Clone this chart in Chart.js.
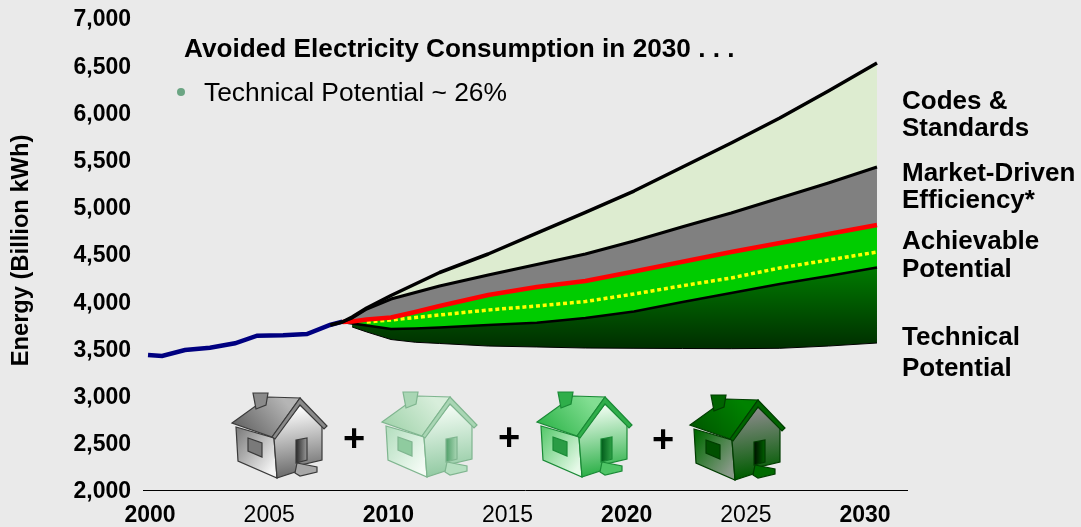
<!DOCTYPE html>
<html>
<head>
<meta charset="utf-8">
<title>Avoided Electricity Consumption</title>
<script src="https://cdn.jsdelivr.net/npm/chart.js@4"></script>
<style>
  html, body { margin: 0; padding: 0; background: #eaeaea; overflow: hidden; }
  canvas { display: block; }
</style>
</head>
<body>
<canvas id="chart" width="1081" height="527"></canvas>
<script>
const historyYears = [2000, 2000.58, 2001.52, 2002.55, 2003.58, 2004.49, 2005.56, 2006.54, 2007.49, 2008]
const historyValues = [3430, 3419, 3483, 3507, 3554, 3635, 3639, 3652, 3748, 3783]

const years = [2007.5, 2008, 2008.4, 2009, 2010, 2011, 2012, 2014, 2016, 2018, 2020, 2022, 2024, 2026, 2028, 2030]
const codesStandards = [3748, 3780, 3833, 3928, 4060, 4182, 4304, 4500, 4722, 4940, 5167, 5422, 5676, 5941, 6227, 6523]
const marketDriven = [null, 3780, 3822, 3917, 4023, 4092, 4161, 4278, 4389, 4500, 4638, 4789, 4934, 5093, 5252, 5422]
const achievable = [null, 3780, 3785, 3806, 3827, 3886, 3949, 4066, 4150, 4214, 4315, 4418, 4521, 4616, 4712, 4807]
const midCase = [null, null, null, 3780, 3801, 3827, 3854, 3907, 3949, 3997, 4076, 4164, 4246, 4352, 4436, 4521]
const technical = [null, 3780, 3764, 3743, 3705, 3711, 3721, 3748, 3772, 3822, 3891, 3991, 4087, 4182, 4267, 4357]
const technicalLow = [null, null, 3727, 3674, 3594, 3565, 3552, 3525, 3515, 3504, 3501, 3499, 3497, 3501, 3525, 3557]

const yearTicks = [2000, 2005, 2010, 2015, 2020, 2025, 2030]
const boldYears = [2000, 2010, 2020, 2030]

const FONT = '"Liberation Sans", Arial, sans-serif'
const canvas = document.getElementById('chart')
const ctx = canvas.getContext('2d')

const darkGreen = ctx.createLinearGradient(0, 268, 0, 346)
darkGreen.addColorStop(0, '#007a00')
darkGreen.addColorStop(1, '#003000')

const toPoints = (xs, ys) => xs.map((x, i) => ({ x, y: ys[i] }))

const band = (label, values, color, width, fill, bg, dash) => ({
  label,
  data: toPoints(years, values),
  borderColor: color,
  borderWidth: width,
  backgroundColor: bg,
  fill,
  borderDash: dash || [],
  borderCapStyle: 'butt',
  borderJoinStyle: 'round',
  pointRadius: 0,
  tension: 0
})

const labels = [
  { text: 'Avoided Electricity Consumption in 2030 . . .', x: 184, y: 50, font: 'bold 26.2px' },
  { text: 'Technical Potential ~ 26%', x: 204, y: 94, font: '26.4px' },
  { text: 'Codes &', x: 902, y: 102, font: 'bold 26px' },
  { text: 'Standards', x: 902, y: 129, font: 'bold 26px' },
  { text: 'Market-Driven', x: 902, y: 174, font: 'bold 26px' },
  { text: 'Efficiency*', x: 902, y: 201, font: 'bold 26px' },
  { text: 'Achievable', x: 902, y: 242, font: 'bold 26px' },
  { text: 'Potential', x: 902, y: 270, font: 'bold 26px' },
  { text: 'Technical', x: 902, y: 338, font: 'bold 26px' },
  { text: 'Potential', x: 902, y: 369, font: 'bold 26px' },
  { text: '+', x: 343, y: 441, font: 'bold 38px' },
  { text: '+', x: 498, y: 440, font: 'bold 38px' },
  { text: '+', x: 652, y: 442, font: 'bold 38px' }
]

const houses = [
  { x: 232, y: 393, edge: '#3a3a3a', band: '#8a8a8a', roof: ['#666666', '#b5b5b5'], left: ['#808080', '#f4f4f4'], right: ['#ffffff', '#6e6e6e'], door: '#2a2a2a', doorEnd: '#999999', window: '#7a7a7a', step: '#a8a8a8' },
  { x: 382, y: 392, edge: '#7fb58f', band: '#a9d6b4', roof: ['#a3d4ad', '#d8eedb'], left: ['#b5dfc0', '#f4fbf5'], right: ['#f4fcf5', '#94cba4'], door: '#4f9f69', doorEnd: '#a9d6b4', window: '#8fcb9f', step: '#b5dfc0' },
  { x: 537, y: 392, edge: '#1a8a36', band: '#2fae4a', roof: ['#32b64d', '#82de92'], left: ['#5ccb70', '#e6f9e8'], right: ['#f0fdf1', '#2fb14a'], door: '#005a1a', doorEnd: '#2fa046', window: '#2a9c45', step: '#4fc466' },
  { x: 690, y: 395, edge: '#003d00', band: '#006400', roof: ['#005a00', '#008200'], left: ['#006a00', '#8a9a8a'], right: ['#8a8a8a', '#005c00'], door: '#000f00', doorEnd: '#006000', window: '#005000', step: '#006a00' }
]

const poly = (c, ox, oy, pts, fill, stroke) => {
  c.beginPath()
  pts.forEach(([x, y], i) => (i ? c.lineTo(ox + x, oy + y) : c.moveTo(ox + x, oy + y)))
  c.closePath()
  c.fillStyle = fill
  c.fill()
  if (stroke) {
    c.strokeStyle = stroke
    c.lineWidth = 1.2
    c.stroke()
  }
}

const grad = (c, x0, y0, x1, y1, [a, b]) => {
  const g = c.createLinearGradient(x0, y0, x1, y1)
  g.addColorStop(0, a)
  g.addColorStop(1, b)
  return g
}

const drawHouse = (c, h) => {
  const { x, y } = h
  poly(c, x, y, [[4, 34], [42, 45], [45, 85], [6, 68]], grad(c, x + 4, y + 40, x + 45, y + 70, h.left), h.edge)
  poly(c, x, y, [[42, 45], [68, 12], [90, 30], [90, 67], [65, 73], [66, 78], [45, 85]], grad(c, x + 60, y + 15, x + 70, y + 80, h.right), h.edge)
  poly(c, x, y, [[16, 45], [30, 50], [30, 64], [16, 58]], h.window, h.edge)
  poly(c, x, y, [[64, 47], [75, 45], [75, 67], [64, 70]], grad(c, x + 64, y, x + 75, y, [h.door, h.doorEnd]), h.edge)
  poly(c, x, y, [[65, 70], [85, 74], [85, 79], [68, 83], [63, 80]], h.step, h.edge)
  poly(c, x, y, [[0, 30], [36, 4], [68, 5], [40, 44]], grad(c, x + 10, y + 40, x + 50, y + 5, h.roof), h.edge)
  poly(c, x, y, [[68, 5], [95, 33], [92, 36], [68, 12], [43, 46], [40, 44]], h.band, h.edge)
  poly(c, x, y, [[21, 0], [36, 0], [34, 12], [24, 16]], h.band, h.edge)
}

const annotations = {
  id: 'annotations',
  afterDraw(chart) {
    const c = chart.ctx
    c.save()
    c.textBaseline = 'middle'
    c.textAlign = 'left'
    labels.forEach(l => {
      c.font = `${l.font} ${FONT}`
      c.fillStyle = '#000'
      c.fillText(l.text, l.x, l.y)
    })
    c.beginPath()
    c.arc(181, 92, 4, 0, Math.PI * 2)
    c.fillStyle = '#6ba583'
    c.fill()

    c.save()
    c.translate(21, 250.5)
    c.rotate(-Math.PI / 2)
    c.textAlign = 'center'
    c.font = `bold 23.7px ${FONT}`
    c.fillStyle = '#000'
    c.fillText('Energy (Billion kWh)', 0, 0)
    c.restore()

    houses.forEach(h => drawHouse(c, h))
    c.restore()
  }
}

new Chart(canvas, {
  type: 'line',
  data: {
    datasets: [
      band('Codes & Standards', codesStandards, '#000000', 3.5, '+1', '#ddecd0'),
      band('Market-Driven Efficiency', marketDriven, '#000000', 3, '+1', '#808080'),
      band('Achievable Potential', achievable, '#ff0000', 4.5, 4, '#00cc00'),
      band('Mid case', midCase, '#ffff00', 3.5, false, 'transparent', [4, 2.8]),
      band('Technical Potential', technical, '#000000', 2.5, '+1', darkGreen),
      band('Technical low', technicalLow, '#000000', 1, false, 'transparent'),
      {
        label: 'History',
        data: toPoints(historyYears, historyValues),
        borderColor: '#000080',
        borderWidth: 4.5,
        pointRadius: 0,
        tension: 0,
        fill: false
      }
    ]
  },
  options: {
    responsive: false,
    animation: false,
    layout: { padding: { top: 18, right: 174, bottom: 0, left: 0 } },
    plugins: {
      legend: { display: false },
      tooltip: { enabled: false },
      filler: { drawTime: 'beforeDatasetsDraw' }
    },
    scales: {
      x: {
        type: 'linear',
        display: false,
        min: 1999.794,
        max: 2031.235
      },
      xLabels: {
        type: 'linear',
        position: 'bottom',
        min: 1999.706,
        max: 2031.76,
        grid: { display: false, drawTicks: false },
        border: { display: true, color: '#000', width: 1 },
        afterBuildTicks: s => { s.ticks = yearTicks.map(value => ({ value })) },
        afterFit: s => { s.height = 37; s.paddingLeft = 0; s.paddingRight = 0 },
        ticks: {
          autoSkip: false,
          maxRotation: 0,
          padding: 12,
          color: '#000',
          callback: v => String(v),
          font: c => ({
            family: FONT,
            size: 23,
            weight: boldYears.includes(c.tick && c.tick.value) ? 'bold' : 'normal'
          })
        }
      },
      y: {
        min: 2000,
        max: 7000,
        grid: { display: false, drawTicks: false },
        border: { display: false },
        afterFit: s => { s.width = 143; s.paddingTop = 0; s.paddingBottom = 0 },
        ticks: {
          stepSize: 500,
          padding: 12,
          labelOffset: 2,
          color: '#000',
          font: { family: FONT, size: 23, weight: 'bold' }
        }
      }
    }
  },
  plugins: [annotations]
})
</script>
</body>
</html>
